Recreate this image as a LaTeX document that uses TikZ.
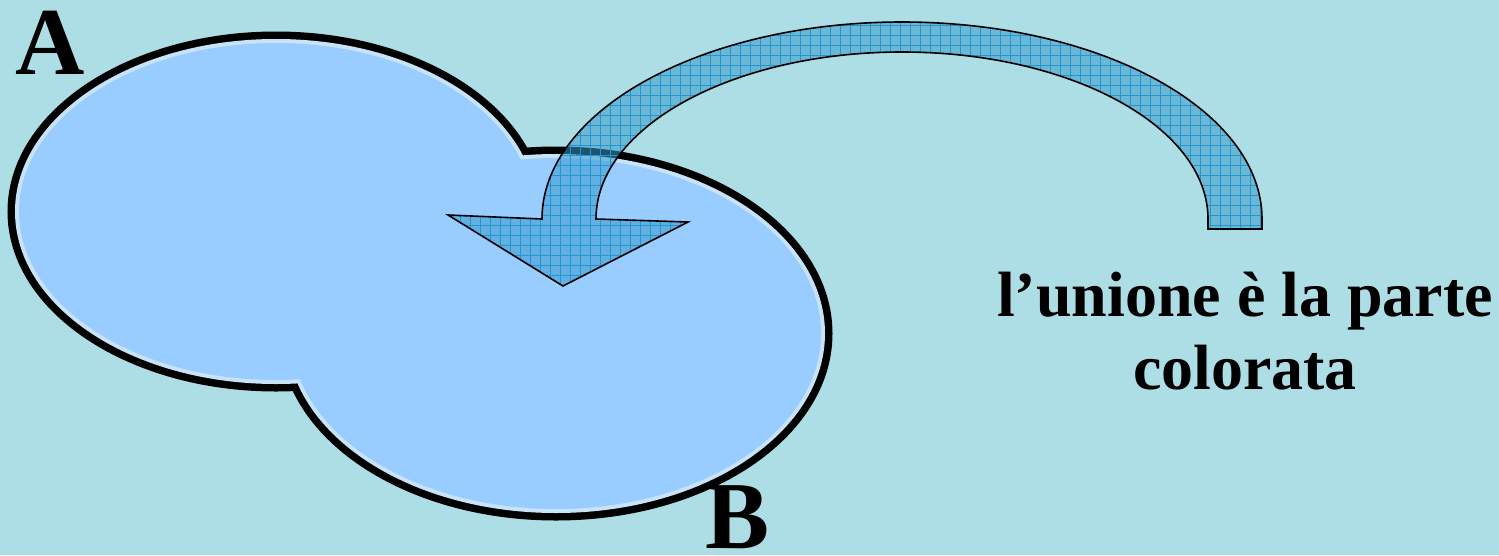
\documentclass[tikz,border=0pt]{standalone}
\usepackage{fontspec}
\setmainfont{Liberation Serif}
\usetikzlibrary{patterns.meta}
\definecolor{bgwater}{HTML}{AEDEE5}
\definecolor{setfill}{HTML}{99CCFF}
\definecolor{setrim}{HTML}{C8E3F8}
\definecolor{arrowfill}{HTML}{3399CC}
\definecolor{arrowgrid}{HTML}{1A8FC8}
\tikzset{
  setlabel/.style={inner sep=0pt, font=\fontsize{96}{100}\selectfont\bfseries, text=black},
  notetext/.style={inner sep=0pt, align=center, font=\fontsize{64}{73}\selectfont\bfseries, text=black},
  arrowbody/.style={fill=arrowfill, fill opacity=0.55, draw=black, draw opacity=1, line width=1.6pt, line join=miter},
  arrowhatch/.style={pattern={Hatch[angle=0,distance=10pt,line width=0.7pt]}, pattern color=arrowgrid, fill opacity=0.5}
}
\begin{document}
\begin{tikzpicture}[x=1pt,y=1pt]
\fill[bgwater] (0,0) rectangle (1499,-555);
\useasboundingbox (0,0) rectangle (1499,-555);
% union of A and B: outline, rim, fill
\draw[line width=15pt, black]
  (276,-211.5) ellipse [x radius=261pt, y radius=172.5pt]
  (556,-333.5) ellipse [x radius=269pt, y radius=179.5pt];
\fill[setrim]
  (276,-211.5) ellipse [x radius=261pt, y radius=172.5pt]
  (556,-333.5) ellipse [x radius=269pt, y radius=179.5pt];
\fill[setfill]
  (276,-211.5) ellipse [x radius=257pt, y radius=168.5pt]
  (556,-333.5) ellipse [x radius=265pt, y radius=175.5pt];
% curved arrow
\def\arrowpath{(563,-286) -- (448,-215) -- (542,-219)
  arc[start angle=180, end angle=0, x radius=360pt, y radius=197pt]
  -- (1262,-229) -- (1208,-229) -- (1208,-219)
  arc[start angle=0, end angle=180, x radius=306pt, y radius=167pt]
  -- (688,-222) -- cycle}
\fill[arrowhatch] \arrowpath;
\draw[arrowbody] \arrowpath;
% labels
\node[setlabel, anchor=base] (labA) at (50,-74) {A};
\node[setlabel, anchor=base] (labB) at (738,-548) {B};
\node[notetext, anchor=north] (note) at (1245,-272) {l’unione è la parte\\colorata};
\end{tikzpicture}
\end{document}
